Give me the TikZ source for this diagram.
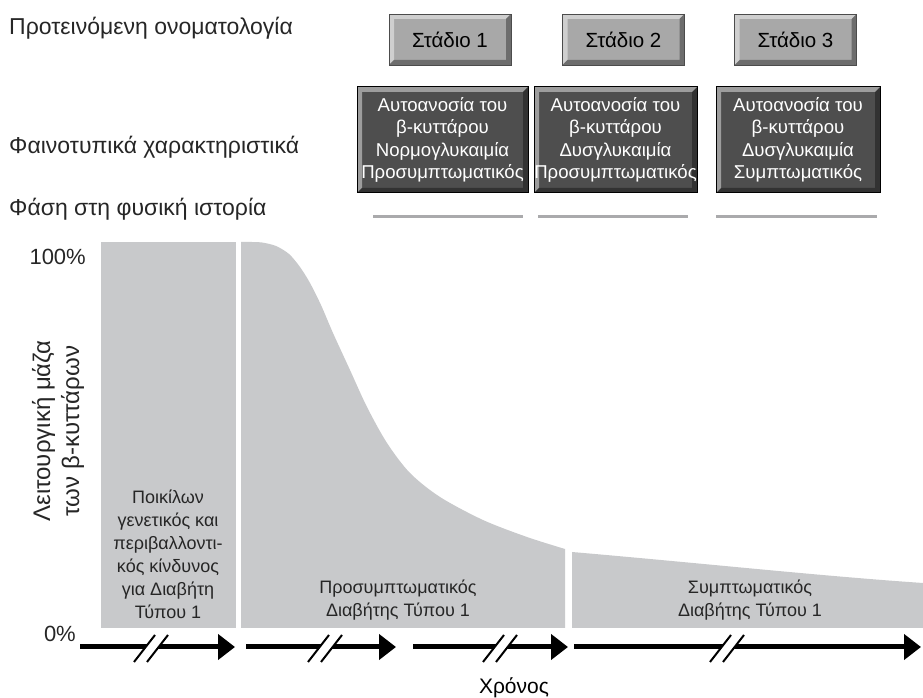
\documentclass[tikz,border=0pt]{standalone}
\usepackage{fontspec}
\setmainfont{Liberation Sans}
\usetikzlibrary{arrows.meta}
\definecolor{chartgray}{RGB}{200,201,203}
\definecolor{stagegray}{RGB}{168,168,168}
\definecolor{phenogray}{RGB}{78,78,78}
\definecolor{phasegray}{RGB}{170,170,172}
\newcommand{\timebreak}[1]{%
  \fill[white] (#1-10,45) -- (#1+3,45) -- (#1+12.3,57) -- (#1-0.7,57) -- cycle;
  \draw[line width=2] (#1-17,36) -- (#1+4,63);
  \draw[line width=2] (#1-4,36) -- (#1+17,63);
}
\begin{document}
\begin{tikzpicture}[x=1pt,y=1pt,
    bevel/.style={path picture={
      \fill[white,opacity=.45] (path picture bounding box.north west) -- (path picture bounding box.north east)
        -- ([shift={(-5,-5)}]path picture bounding box.north east) -- ([shift={(5,-5)}]path picture bounding box.north west)
        -- ([shift={(5,5)}]path picture bounding box.south west) -- (path picture bounding box.south west) -- cycle;
      \fill[black,opacity=.35] (path picture bounding box.south east) -- (path picture bounding box.north east)
        -- ([shift={(-5,-5)}]path picture bounding box.north east) -- ([shift={(-5,5)}]path picture bounding box.south east)
        -- ([shift={(5,5)}]path picture bounding box.south west) -- (path picture bounding box.south west) -- cycle;
    }},
    stagebox/.style={bevel,draw=black!70,line width=0.8,fill=stagegray,inner sep=0,
      minimum width=122,minimum height=51,font=\fontsize{20.5}{24}\selectfont},
    phenobox/.style={bevel,draw=black,line width=1,fill=phenogray,inner sep=0,text=white,
      minimum height=106,align=center,font=\fontsize{18.6}{22.5}\selectfont},
    rowlabel/.style={anchor=west,inner sep=0,text=black!85,font=\fontsize{23}{27}\selectfont},
    chartlabel/.style={align=center,inner sep=0,text=black!85,font=\fontsize{18}{23}\selectfont},
    phaseline/.style={draw=phasegray,line width=3},
    timearrow/.style={line width=5,-{Triangle[length=17,width=25]}}]
  \useasboundingbox (0,0) rectangle (923,698);

  % подписи строк
  \node[rowlabel] (nomen) at (9,670) {Προτεινόμενη ονοματολογία};
  \node[rowlabel] (pheno) at (9,551) {Φαινοτυπικά χαρακτηριστικά};
  \node[rowlabel] (phase) at (9,489) {Φάση στη φυσική ιστορία};

  % стадии
  \node[stagebox] (st1) at (450,658.5) {Στάδιο 1};
  \node[stagebox] (st2) at (623.5,658.5) {Στάδιο 2};
  \node[stagebox] (st3) at (795.5,658.5) {Στάδιο 3};

  \node[phenobox,minimum width=171] (ph1) at (442.5,558) {Αυτοανοσία του\\β-κυττάρου\\Νορμογλυκαιμία\\Προσυμπτωματικός};
  \node[phenobox,minimum width=163] (ph2) at (615.5,558) {Αυτοανοσία του\\β-κυττάρου\\Δυσγλυκαιμία\\Προσυμπτωματικός};
  \node[phenobox,minimum width=164] (ph3) at (798,558) {Αυτοανοσία του\\β-κυττάρου\\Δυσγλυκαιμία\\Συμπτωματικός};

  \coordinate (fa1) at (373,481);
  \coordinate (fb1) at (523,481);
  \coordinate (fa2) at (538,481);
  \coordinate (fb2) at (688,481);
  \coordinate (fa3) at (716,481);
  \coordinate (fb3) at (877,481);
  \draw[phaseline] (fa1) -- (fb1);
  \draw[phaseline] (fa2) -- (fb2);
  \draw[phaseline] (fa3) -- (fb3);

  % график
  \fill[chartgray] (101,70) rectangle (236,456);
  \fill[chartgray] (241,70) -- (241,456)
    -- plot[smooth] coordinates {(250,456) (262,455.5) (276,452) (289,444) (300,431) (310,415)
      (321,393) (333,365) (350,328) (367,291)
      (387,255) (410,225) (440,201) (483,178) (527,161) (565,149)}
    -- (565,70) -- cycle;
  \fill[chartgray] (572,70) -- (572,146) .. controls (700,135) and (820,122) .. (923,115) -- (923,70) -- cycle;

  \node[anchor=east,inner sep=0,text=black!85,font=\fontsize{22}{26}\selectfont] (full) at (86,441) {100\%};
  \node[anchor=east,inner sep=0,text=black!85,font=\fontsize{22}{26}\selectfont] (zero) at (76,64) {0\%};
  \node[rotate=90,align=center,inner sep=0,text=black!85,font=\fontsize{24}{29}\selectfont] (ylab) at (58,267)
    {Λειτουργική μάζα\\των β-κυττάρων};

  \node[chartlabel] (risk) at (168,144) {Ποικίλων\\γενετικός και\\περιβαλλοντι-\\κός κίνδυνος\\για Διαβήτη\\Τύπου 1};
  \node[chartlabel] (presym) at (398,98) {Προσυμπτωματικός\\Διαβήτης Τύπου 1};
  \node[chartlabel] (sym) at (750,98) {Συμπτωματικός\\Διαβήτης Τύπου 1};

  % ось времени
  \coordinate (ta1) at (80,51);
  \coordinate (tb1) at (235,51);
  \coordinate (ta2) at (246,51);
  \coordinate (tb2) at (396,51);
  \coordinate (ta3) at (413,51);
  \coordinate (tb3) at (568,51);
  \coordinate (ta4) at (574,51);
  \coordinate (tb4) at (921,51);
  \draw[timearrow] (ta1) -- (tb1);
  \draw[timearrow] (ta2) -- (tb2);
  \draw[timearrow] (ta3) -- (tb3);
  \draw[timearrow] (ta4) -- (tb4);
  \timebreak{151}
  \timebreak{325}
  \timebreak{500}
  \timebreak{727}

  \node[inner sep=0,font=\fontsize{21}{24}\selectfont] (time) at (514,10) {Χρόνος};
\end{tikzpicture}
\end{document}
